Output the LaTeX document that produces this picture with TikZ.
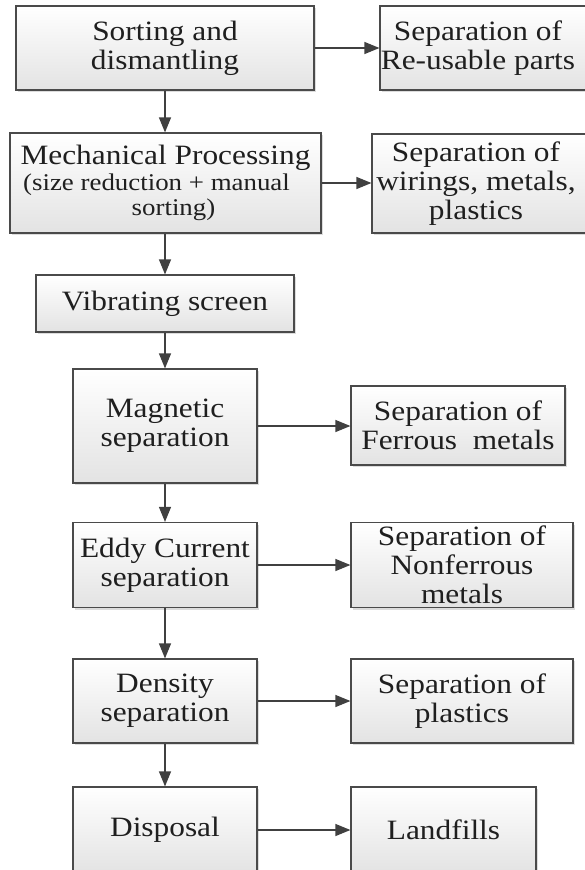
\documentclass[tikz,border=0pt]{standalone}
\usepackage{fontspec}
\setmainfont{Liberation Serif}[FakeStretch=1.12]
\usetikzlibrary{arrows.meta,shadows}
\definecolor{edgecol}{HTML}{4A4A4A}
\definecolor{arrcol}{HTML}{404040}
\tikzset{
  box/.style={draw=edgecol, line width=1.2pt, top color=white, bottom color=black!11,
    drop shadow={shadow xshift=2pt, shadow yshift=-2pt, fill=black!30, opacity=0.45},
    align=center, inner sep=2pt, font=\fontsize{28}{29}\selectfont, text=black!88},
  lbl/.style={align=center, inner sep=0pt, font=\fontsize{28}{29}\selectfont, text=black!88},
  flow/.style={draw=arrcol, line width=1.2pt, -{Triangle[length=15pt,width=12pt]}},
}
\begin{document}
\begin{tikzpicture}[x=1pt,y=-1pt]
\useasboundingbox (0,0) rectangle (585,870);
\clip (0,0) rectangle (585,870);
% left column
\node[box, minimum width=298pt, minimum height=84pt] (sort) at (165,48) {Sorting and\\dismantling};
\node[box, minimum width=311pt, minimum height=100pt] (mech) at (165.5,183)
  {Mechanical Processing\\[-3pt]{\fontsize{24}{23}\selectfont\hspace*{-18pt}(size reduction + manual}\\[-4pt]{\fontsize{24}{23}\selectfont\hspace*{16pt}sorting)}};
\node[box, minimum width=258pt, minimum height=57pt] (vib) at (165,303.5) {Vibrating screen};
\node[box, minimum width=184pt, minimum height=114pt] (mag) at (165,426) {Magnetic\\separation};
\node[box, minimum width=184pt, minimum height=85pt] (eddy) at (165,565) {Eddy Current\\separation};
\node[box, minimum width=184pt, minimum height=84pt] (dens) at (165,701) {Density\\separation};
\node[box, minimum width=184pt, minimum height=86pt] (disp) at (165,830) {Disposal};
% right column
\node[box, minimum width=220pt, minimum height=84pt] (r1) at (490,48) {};
\node[lbl] (r1t) at (478,48) {Separation of\\Re-usable parts};
\node[box, minimum width=228pt, minimum height=99pt] (r2) at (486,183.5) {};
\node[lbl] (r2t) at (476,183.5) {Separation of\\wirings, metals,\\plastics};
\node[box, minimum width=214pt, minimum height=79pt] (fer) at (458,425.5) {Separation of\\Ferrous\ \ metals};
\node[box, minimum width=222pt, minimum height=85pt] (nonf) at (462,565) {Separation of\\Nonferrous\\metals};
\node[box, minimum width=222pt, minimum height=84pt] (plas) at (462,701) {Separation of\\plastics};
\node[box, minimum width=185pt, minimum height=86pt] (land) at (443.5,830) {Landfills};
% vertical flow
\draw[flow] (sort.south) -- (sort.south |- mech.north);
\draw[flow] (mech.south -| sort.south) -- (sort.south |- vib.north);
\draw[flow] (vib.south) -- (vib.south |- mag.north);
\draw[flow] (mag.south) -- (mag.south |- eddy.north);
\draw[flow] (eddy.south) -- (eddy.south |- dens.north);
\draw[flow] (dens.south) -- (dens.south |- disp.north);
% horizontal flow
\draw[flow] (sort.east) -- (sort.east -| r1.west);
\draw[flow] (mech.east) -- (mech.east -| r2.west);
\draw[flow] (mag.east) -- (mag.east -| fer.west);
\draw[flow] (eddy.east) -- (eddy.east -| nonf.west);
\draw[flow] (dens.east) -- (dens.east -| plas.west);
\draw[flow] (disp.east) -- (disp.east -| land.west);
\end{tikzpicture}
\end{document}
